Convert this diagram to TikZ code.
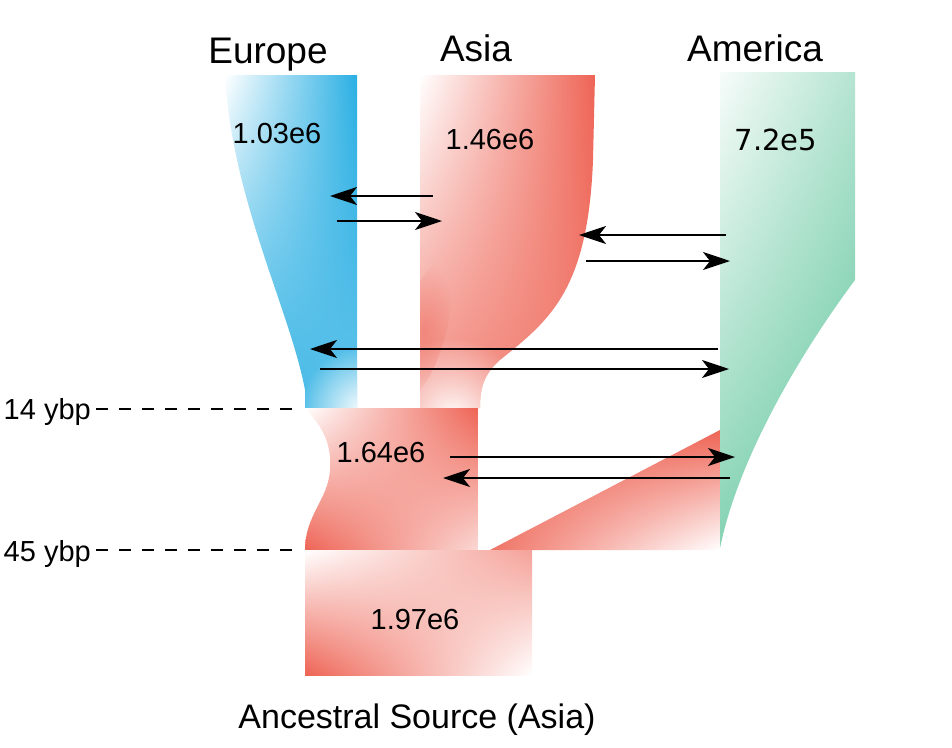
\documentclass[tikz,border=0pt]{standalone}
\usepackage{fontspec}
\setmainfont{Liberation Sans}
\newfontfamily\dejavu{DejaVu Sans}
\usetikzlibrary{arrows.meta,fadings,shadings}
\definecolor{blueC}{HTML}{2AAFE3}
\definecolor{redC}{HTML}{EE6455}
\definecolor{greenC}{HTML}{5CC49A}
\tikzfading[name=radfade, inner color=transparent!0, outer color=transparent!100]
\begin{document}
\begin{tikzpicture}[x=1pt,y=-1pt,
  arr/.style={line width=2.3pt,-{Stealth[length=27pt,width=18pt,inset=7pt]}},
  lab/.style={font=\fontsize{29}{32}\selectfont,inner sep=0pt,anchor=base},
  head/.style={font=\fontsize{37}{40}\selectfont,inner sep=0pt,anchor=base},
  ybpline/.style={line width=2.6pt,dash pattern=on 12pt off 11pt}]
\useasboundingbox (0,0) rectangle (952,747);

% Asia (upper)
\begin{scope}
\clip (420,75) -- (595,75) -- (593,160) .. controls (588,290) and (550,320) .. (500,360)
  .. controls (484,374) and (480,388) .. (480,408) -- (420,408) -- cycle;
\shade[upper left=white, upper right=redC, lower left=redC!75!white, lower right=redC!85!white]
  (420,75) rectangle (595,408);
\fill[white, path fading=radfade] (452,418) circle (80);
\fill[redC, opacity=0.45, path fading=radfade, rotate around={-15:(424,330)}] (424,330) ellipse (22 and 70);
\end{scope}

% Europe
\begin{scope}
\clip (225,75) -- (357,75) -- (357,408) -- (305,408) -- (305,390)
  .. controls (290,310) and (232,200) .. (225,75) -- cycle;
\shade[upper left=white, upper right=blueC, lower left=blueC, lower right=blueC!75!white]
  (225,75) rectangle (357,408);
\fill[white, path fading=radfade] (364,412) circle (65);
\end{scope}

% middle Asia box
\begin{scope}
\clip (305,408) -- (478,408) -- (478,550) -- (305,550)
  .. controls (305,515) and (328,500) .. (330,470)
  .. controls (332,440) and (320,425) .. (305,408) -- cycle;
\shade[upper left=white, upper right=redC, lower left=redC, lower right=redC!25!white]
  (305,408) rectangle (478,550);
\end{scope}

% band to America
\shade[upper left=redC, upper right=redC, lower left=redC!90!white, lower right=white]
  (490,550) -- (720,430) -- (720,550) -- cycle;

% ancestral box
\shade[upper left=white, upper right=redC!60!white, lower left=redC, lower right=white]
  (305,550) rectangle (532,675);

% America
\shade[upper left=greenC!5!white, upper right=greenC!45!white, lower left=greenC!75!white, lower right=greenC]
  (720,72) -- (855,72) -- (855,280) .. controls (810,340) and (740,450) .. (720,548) -- cycle;

% headings
\node[head] (eu) at (268,63) {Europe};
\node[head] (as) at (476,61) {Asia};
\node[head] (am) at (755,61) {America};

% sizes
\node[lab] (n1) at (277,143) {1.03e6};
\node[lab] (n2) at (490,149) {1.46e6};
\node[lab] (n3) at (776,150) {\dejavu 7.2e5};
\node[lab] (n4) at (381,462) {1.64e6};
\node[lab] (n5) at (415,629) {1.97e6};

% time marks
\node[lab,anchor=base east] (t14) at (91,419) {14 ybp};
\node[lab,anchor=base east] (t45) at (91,561) {45 ybp};
\coordinate (d14a) at (96,409); \coordinate (d14b) at (303,409);
\coordinate (d45a) at (96,550); \coordinate (d45b) at (303,550);
\draw[ybpline] (d14a) -- (d14b);
\draw[ybpline] (d45a) -- (d45b);

\node[font=\fontsize{34}{36}\selectfont,inner sep=0pt,anchor=base] (anc) at (417,728) {Ancestral Source (Asia)};

% migration arrows
\coordinate (a1s) at (433,196); \coordinate (a1e) at (330,196);
\coordinate (a2s) at (337,221); \coordinate (a2e) at (442,221);
\coordinate (a3s) at (726,235); \coordinate (a3e) at (579,235);
\coordinate (a4s) at (586,261); \coordinate (a4e) at (730,261);
\coordinate (a5s) at (718,349); \coordinate (a5e) at (310,349);
\coordinate (a6s) at (320,369); \coordinate (a6e) at (729,369);
\coordinate (a7s) at (450,457); \coordinate (a7e) at (735,457);
\coordinate (a8s) at (730,478); \coordinate (a8e) at (443,478);
\foreach \i in {1,...,8} \draw[arr] (a\i s) -- (a\i e);
\end{tikzpicture}
\end{document}
